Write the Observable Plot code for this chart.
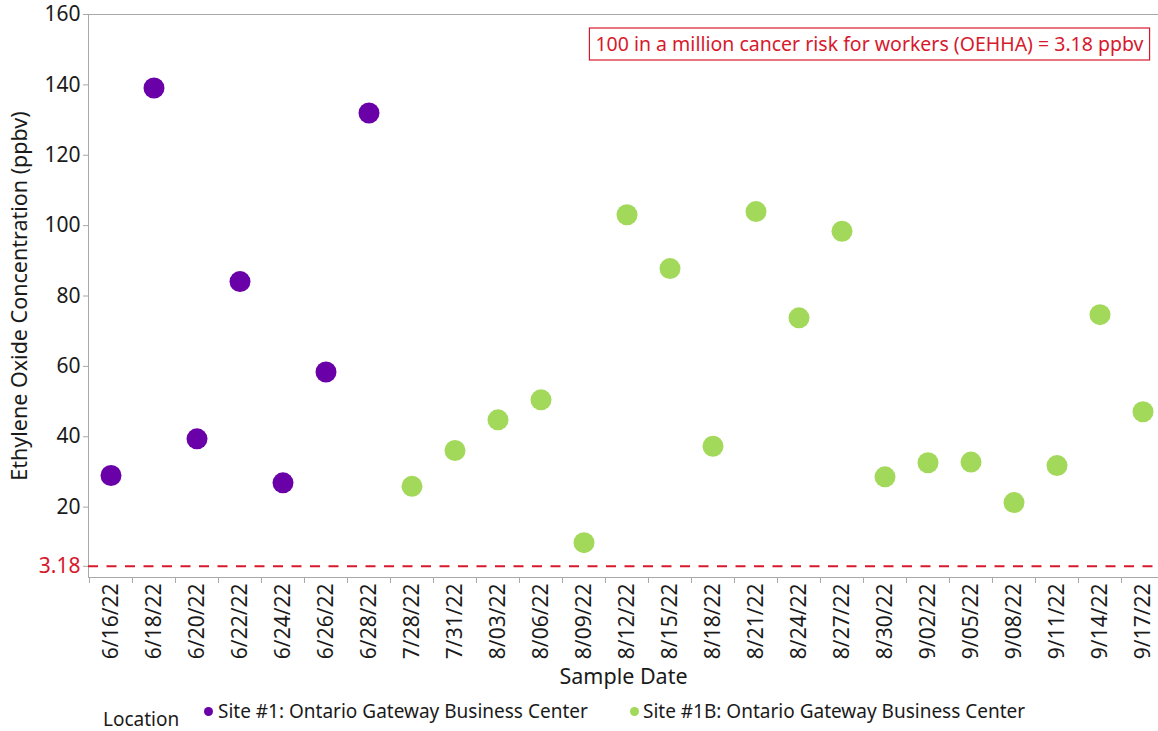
<!DOCTYPE html>
<html>
<head>
<meta charset="utf-8">
<script src="https://cdn.jsdelivr.net/npm/d3@7"></script>
<script src="https://cdn.jsdelivr.net/npm/@observablehq/plot@0.6"></script>
<style>
  html, body { margin: 0; padding: 0; background: #fff; }
  #wrap { position: relative; width: 1158px; height: 731px; font-family: "Noto Sans", sans-serif; color: #1a1a1a; }
  #legend { position: absolute; left: 0; top: 0; width: 1158px; height: 731px; pointer-events: none; }
  .lg { position: absolute; font-size: 19px; white-space: nowrap; line-height: 1; }
  .sw { position: absolute; width: 9px; height: 9px; border-radius: 50%; }
</style>
</head>
<body>
<div id="wrap"><div id="chart"></div><div id="legend"></div></div>
<script>
const dates = ["6/16/22","6/18/22","6/20/22","6/22/22","6/24/22","6/26/22","6/28/22",
  "7/28/22","7/31/22","8/03/22","8/06/22","8/09/22","8/12/22","8/15/22","8/18/22",
  "8/21/22","8/24/22","8/27/22","8/30/22","9/02/22","9/05/22","9/08/22","9/11/22","9/14/22","9/17/22"];
const site1Dates = ["6/16/22","6/18/22","6/20/22","6/22/22","6/24/22","6/26/22","6/28/22"];
const site1Values = [29.0, 139.1, 39.4, 84.1, 26.9, 58.4, 132.0];
const site1BDates = ["7/28/22","7/31/22","8/03/22","8/06/22","8/09/22","8/12/22","8/15/22","8/18/22",
  "8/21/22","8/24/22","8/27/22","8/30/22","9/02/22","9/05/22","9/08/22","9/11/22","9/14/22","9/17/22"];
const site1BValues = [25.9, 36.1, 44.8, 50.5, 9.9, 103.1, 87.8, 37.3, 104.0, 73.8, 98.4, 28.6, 32.6, 32.8, 21.3, 31.8, 74.7, 47.1];
const seriesNames = ["Site #1: Ontario Gateway Business Center", "Site #1B: Ontario Gateway Business Center"];
const yTicks = [20, 40, 60, 80, 100, 120, 140, 160];
const threshold = 3.18;
const thresholdLabel = "3.18";
const yLabel = "Ethylene Oxide Concentration (ppbv)";
const xLabel = "Sample Date";
const annotation = "100 in a million cancer risk for workers (OEHHA) = 3.18 ppbv";
const legendTitle = "Location";

const purple = "#6a00a8";
const green = "#a3d95a";
const red = "#d7192d";
const gray = "#a8a8a8";

const s1 = site1Dates.map((d, i) => ({date: d, value: site1Values[i]}));
const s1b = site1BDates.map((d, i) => ({date: d, value: site1BValues[i]}));

const xRange = [88, 1164];
const bw = (xRange[1] - xRange[0]) / dates.length;

const chart = Plot.plot({
  width: 1158,
  height: 695,
  marginLeft: 88,
  marginRight: 0,
  marginTop: 14,
  marginBottom: 118,
  style: {fontFamily: "Noto Sans, sans-serif", fontSize: "21px", color: "#1a1a1a", background: "#fff"},
  x: {type: "band", domain: dates, range: xRange, padding: 0},
  y: {domain: [0, 160], range: [577, 14]},
  marks: [
    Plot.frame({anchor: "top", stroke: gray}),
    Plot.frame({anchor: "left", stroke: gray}),
    Plot.frame({anchor: "bottom", stroke: gray}),
    Plot.axisY(yTicks, {tickSize: 5, tickPadding: 3, stroke: gray, fill: "#1a1a1a",
      label: yLabel, labelAnchor: "center", labelArrow: "none", labelOffset: 77}),
    Plot.axisY([threshold], {tickSize: 5, tickPadding: 3, stroke: gray, fill: red,
      tickFormat: () => thresholdLabel, label: null}),
    Plot.axisX({tickSize: 6, dx: -bw / 2, stroke: gray, tickFormat: () => "", label: null}),
    Plot.axisX({tickSize: 0, tickPadding: 6, tickRotate: -90, fill: "#1a1a1a",
      label: xLabel, labelAnchor: "center", labelArrow: "none", labelOffset: 106}),
    Plot.ruleY([threshold], {stroke: red, strokeWidth: 2, strokeDasharray: "10,8.5"}),
    Plot.dot(s1, {x: "date", y: "value", r: 10.5, fill: purple}),
    Plot.dot(s1b, {x: "date", y: "value", r: 10.5, fill: green}),
    Plot.text([annotation], {frameAnchor: "top-right", dx: -15, dy: 30, text: d => d, fill: red,
      fontSize: 19.5, textAnchor: "end", lineAnchor: "middle", className: "annot"})
  ]
});
document.getElementById("chart").appendChild(chart);

// axis titles slightly larger than tick labels
chart.querySelectorAll("text").forEach(el => {
  if (el.textContent === yLabel || el.textContent === xLabel) el.style.fontSize = "21.5px";
});

// box around annotation, in root svg coordinates
const t = chart.querySelector("g.annot text");
if (t) {
  const sr = chart.getBoundingClientRect();
  const tr = t.getBoundingClientRect();
  const rect = document.createElementNS("http://www.w3.org/2000/svg", "rect");
  rect.setAttribute("x", tr.left - sr.left - 6);
  rect.setAttribute("y", 28);
  rect.setAttribute("width", tr.width + 12);
  rect.setAttribute("height", 32);
  rect.setAttribute("fill", "none");
  rect.setAttribute("stroke", red);
  rect.setAttribute("stroke-width", 1.2);
  chart.appendChild(rect);
}

// legend
const lg = document.getElementById("legend");
const addText = (txt, left, cy) => {
  const s = document.createElement("div");
  s.className = "lg";
  s.textContent = txt;
  s.style.left = left + "px";
  s.style.top = (cy - 10) + "px";
  lg.appendChild(s);
};
const addSw = (color, cx, cy) => {
  const s = document.createElement("div");
  s.className = "sw";
  s.style.background = color;
  s.style.left = (cx - 4.5) + "px";
  s.style.top = (cy - 4.5) + "px";
  lg.appendChild(s);
};
addText(legendTitle, 103, 720);
addSw(purple, 208, 711);
addText(seriesNames[0], 218, 712);
addSw(green, 634, 711);
addText(seriesNames[1], 643, 712);
</script>
</body>
</html>
